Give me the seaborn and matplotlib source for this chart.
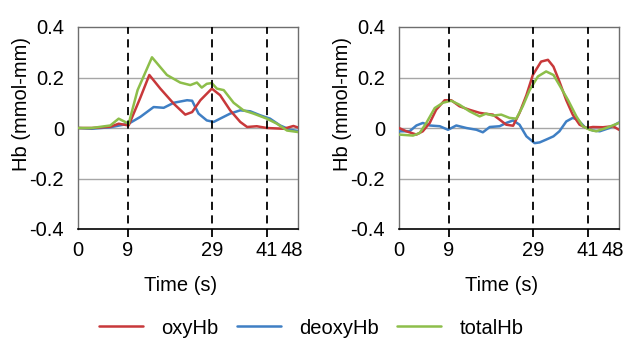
import matplotlib
matplotlib.use("Agg")
import matplotlib.pyplot as plt
import seaborn as sns
import pandas as pd
from matplotlib.lines import Line2D

# ---------------- data ----------------
series_names = ["oxyHb", "deoxyHb", "totalHb"]
series_colors = ["#C8383A", "#3F7FC4", "#8DBE4A"]

# left panel
left_oxy_t = [0, 3, 7.05, 8.87, 11.05, 13.6, 15.56, 17.96, 20.9, 23.4, 24.9, 26.7, 29.2, 31.0, 33.2, 35.4, 36.9, 39.0, 41.2, 44.9, 47.0, 48]
left_oxy_v = [0, 0, 0.005, 0.017, 0.01, 0.12, 0.21, 0.156, 0.096, 0.053, 0.063, 0.11, 0.156, 0.13, 0.07, 0.024, 0.004, 0.007, 0.0, -0.003, 0.008, 0.002]
left_deoxy_t = [0, 3, 7.05, 11.05, 13.6, 16.5, 18.7, 20.9, 23.8, 24.9, 26.3, 28.1, 29.6, 31.0, 33.2, 35.4, 37.6, 39.8, 41.9, 44.1, 46.3, 48]
left_deoxy_v = [0, -0.003, 0.003, 0.017, 0.044, 0.083, 0.08, 0.10, 0.11, 0.108, 0.057, 0.03, 0.024, 0.037, 0.057, 0.07, 0.066, 0.05, 0.037, 0.01, -0.007, -0.012]
left_total_t = [0, 3, 7.05, 8.87, 11.05, 13.0, 16.14, 19.4, 22.3, 24.5, 25.95, 27.0, 28.1, 29.2, 30.3, 31.8, 33.95, 36.1, 38.3, 41.2, 43.4, 45.6, 48]
left_total_v = [0, 0, 0.01, 0.037, 0.017, 0.15, 0.28, 0.21, 0.18, 0.17, 0.18, 0.16, 0.175, 0.178, 0.156, 0.15, 0.10, 0.07, 0.057, 0.037, 0.017, -0.01, -0.016]

# right panel
right_oxy_t = [0, 1.6, 3.8, 5.2, 6.7, 8.1, 9.96, 11.4, 13.2, 15.4, 17.6, 19.0, 20.5, 21.96, 23.4, 24.9, 26.3, 27.8, 29.2, 31.0, 32.5, 33.7, 35.0, 36.5, 37.9, 39.4, 40.9, 42.3, 44.5, 46.7, 48]
right_oxy_v = [0, -0.013, -0.026, -0.013, 0.02, 0.072, 0.11, 0.11, 0.086, 0.072, 0.06, 0.056, 0.053, 0.033, 0.013, 0.009, 0.06, 0.13, 0.21, 0.263, 0.27, 0.243, 0.184, 0.11, 0.053, 0.013, 0.0, 0.004, 0.003, 0.007, -0.007]
right_deoxy_t = [0, 2.3, 3.8, 5.2, 6.7, 8.9, 10.7, 12.5, 14.7, 16.9, 18.3, 19.8, 21.96, 23.4, 24.9, 26.3, 27.8, 29.6, 30.7, 32.1, 33.7, 35.0, 36.5, 37.9, 39.0, 40.5, 42.3, 43.8, 45.9, 48]
right_deoxy_v = [-0.013, -0.013, 0.01, 0.02, 0.01, 0.007, -0.007, 0.01, 0.0, -0.007, -0.017, 0.004, 0.007, 0.02, 0.03, 0.013, -0.033, -0.06, -0.057, -0.046, -0.033, -0.013, 0.026, 0.04, 0.033, 0.004, -0.01, -0.013, 0.0, 0.022]
right_total_t = [0, 3.05, 4.5, 5.96, 7.8, 9.6, 11.4, 13.2, 15.4, 17.6, 19.0, 20.5, 22.3, 24.1, 25.6, 27.0, 28.5, 30.3, 32.1, 33.7, 35.0, 36.9, 38.7, 40.1, 41.6, 43.0, 45.2, 48]
right_total_v = [-0.026, -0.03, -0.02, 0.02, 0.079, 0.10, 0.108, 0.092, 0.066, 0.046, 0.057, 0.049, 0.053, 0.04, 0.037, 0.086, 0.15, 0.204, 0.224, 0.21, 0.17, 0.11, 0.046, 0.007, -0.007, -0.013, 0.0, 0.02]

# axis ticks (positions on the drawn time axis) and their labels
xtick_pos = [0, 10.9, 29.2, 41.2, 46.7]
xtick_labels = ["0", "9", "29", "41", "48"]
event_pos = [10.9, 29.2, 41.2]
ytick_vals = [-0.4, -0.2, 0, 0.2, 0.4]
ytick_labels = ["-0.4", "-0.2", "0", "0.2", "0.4"]


def make_df(triples):
    frames = []
    for name, t, v in triples:
        frames.append(pd.DataFrame({"t": t, "v": v, "series": name}))
    return pd.concat(frames, ignore_index=True)


left_df = make_df([("oxyHb", left_oxy_t, left_oxy_v),
                   ("deoxyHb", left_deoxy_t, left_deoxy_v),
                   ("totalHb", left_total_t, left_total_v)])
right_df = make_df([("oxyHb", right_oxy_t, right_oxy_v),
                    ("deoxyHb", right_deoxy_t, right_deoxy_v),
                    ("totalHb", right_total_t, right_total_v)])

sns.set_theme(style="white")
plt.rcParams["font.family"] = ["Liberation Sans", "DejaVu Sans"]
plt.rcParams["text.color"] = "black"
plt.rcParams["axes.labelcolor"] = "black"
plt.rcParams["xtick.color"] = "black"
plt.rcParams["ytick.color"] = "black"
FS = 14.5

fig = plt.figure(figsize=(6.28, 3.40), dpi=100)
axes = [fig.add_axes([78 / 628, 1 - 229 / 340, 220 / 628, 202 / 340]),
        fig.add_axes([399 / 628, 1 - 229 / 340, 220 / 628, 202 / 340])]

palette = dict(zip(series_names, series_colors))
draw_order = ["deoxyHb", "oxyHb", "totalHb"]

for ax, df in zip(axes, [left_df, right_df]):
    for ytv in [-0.2, 0, 0.2]:
        ax.axhline(ytv, color="#A6A6A6", lw=1.0, zorder=0)
    sns.lineplot(data=df, x="t", y="v", hue="series", hue_order=draw_order,
                 palette=palette, ax=ax, lw=1.8, legend=False, estimator=None,
                 sort=False, zorder=3)
    for ev in event_pos:
        ax.plot([ev, ev], [-0.43, 0.4], color="black", lw=1.3,
                ls=(0, (4.5, 3)), clip_on=False, zorder=4)
    ax.set_xlim(0, 48)
    ax.set_ylim(-0.4, 0.4)
    ax.set_xticks(xtick_pos)
    ax.set_xticklabels(xtick_labels, fontsize=FS, color="black")
    ax.set_yticks(ytick_vals)
    ax.set_yticklabels(ytick_labels, fontsize=FS, color="black")
    ax.tick_params(axis="x", length=0, pad=9, labelcolor="black")
    ax.tick_params(axis="y", length=3, width=1, color="#808080", pad=7,
                   direction="out", labelcolor="black")
    ax.set_xlabel("Time (s)", fontsize=FS, color="black")
    ax.set_ylabel("Hb (mmol-mm)", fontsize=FS, color="black")
    ax.xaxis.set_label_coords(0.468, -0.235)
    ax.yaxis.set_label_coords(-0.215, 0.62)
    for side in ["top", "right", "left"]:
        ax.spines[side].set_color("#6E6E6E")
        ax.spines[side].set_linewidth(1.0)
    ax.spines["bottom"].set_color("black")
    ax.spines["bottom"].set_linewidth(1.2)
    ax.set_facecolor("white")

handles = [Line2D([0], [0], color=c, lw=1.8) for c in series_colors]
leg = fig.legend(handles, series_names, loc="center", bbox_to_anchor=(311 / 628, 1 - 328 / 340),
                 ncol=3, frameon=False, fontsize=FS, handlelength=2.2, handletextpad=0.9,
                 columnspacing=0.9)
for txt in leg.get_texts():
    txt.set_color("black")

fig.savefig("out.png", dpi=100, facecolor="white")
